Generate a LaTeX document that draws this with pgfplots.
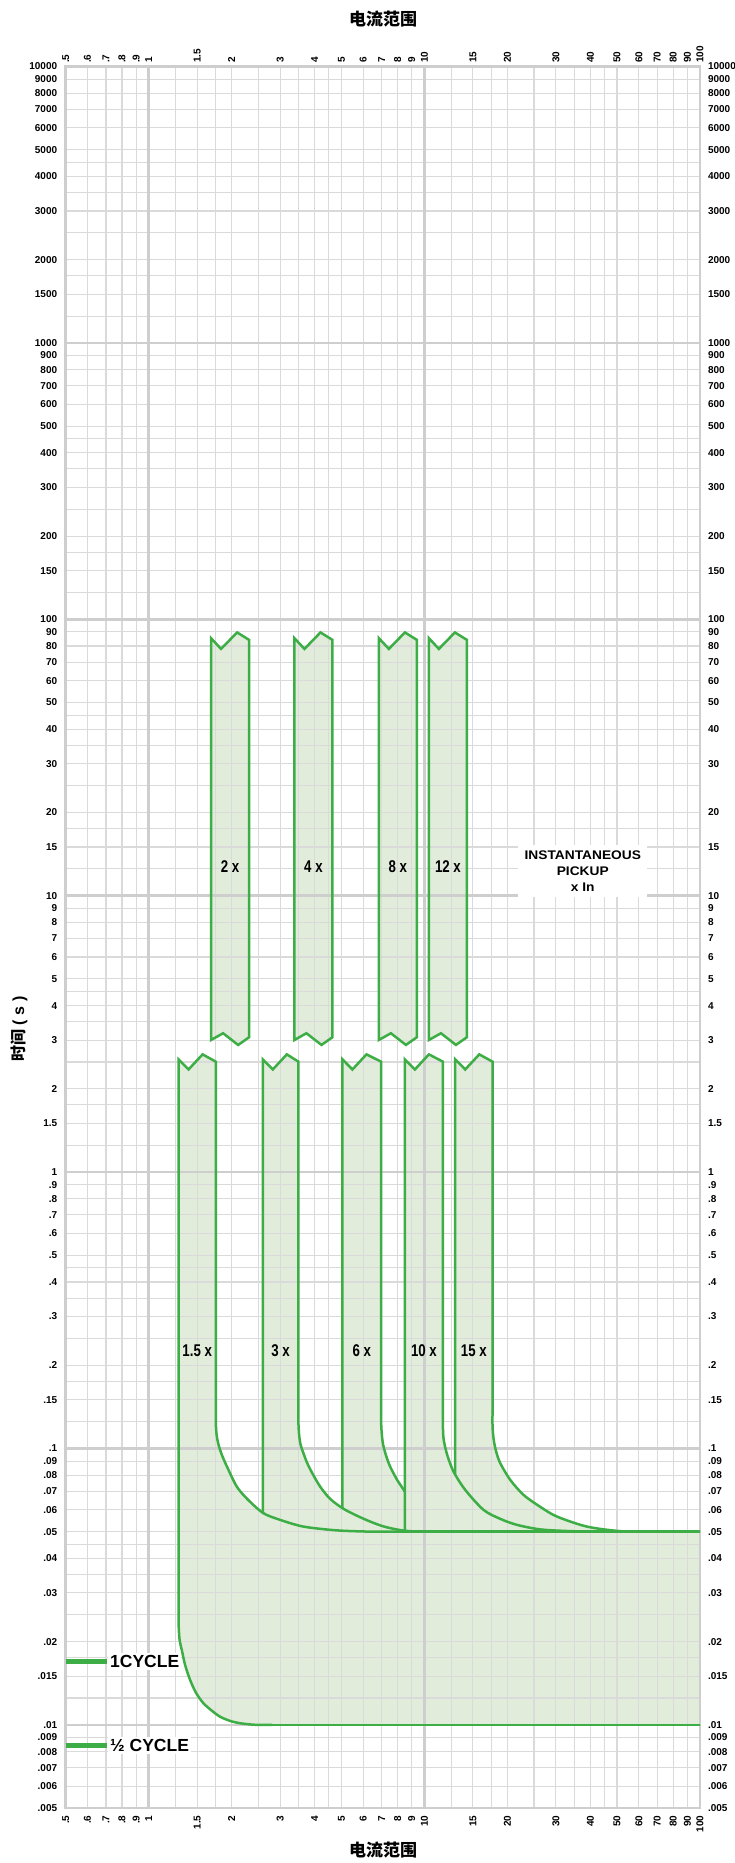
\documentclass[border=0pt]{standalone}
\usepackage{pgfplots}
\pgfplotsset{compat=1.18}
\usepackage{fontspec}
\setmainfont{Liberation Sans}
\newfontfamily\cjk{Noto Sans CJK SC}
\newfontfamily\condfont[FakeStretch=0.78]{Liberation Sans}
\newfontfamily\widefont[FakeStretch=1.1]{Liberation Sans}

\definecolor{tccgreen}{RGB}{61,174,70}
\definecolor{tccfill}{RGB}{225,237,218}
\definecolor{gridlight}{RGB}{218,218,218}
\definecolor{griddark}{RGB}{206,206,206}

\begin{document}
\begin{tikzpicture}

% fills, drawn first so the grid of the next axes lies over them
\begin{axis}[
    xmode=log, ymode=log,
    scale only axis,
    width=634.3pt, height=1741.5pt,
    at={(65.7pt,55pt)}, anchor=south west,
    xmin=0.5, xmax=100, ymin=0.005, ymax=10000,
    hide axis,
  ]
\addplot[fill=tccfill, draw=none] coordinates {
 (1.684,85.4) (1.830,78.1) (2.094,89.6) (2.314,84.2) (2.314,3.074) (2.111,2.883) (1.862,3.178) (1.684,3.005)} -- cycle;
\addplot[fill=tccfill, draw=none] coordinates {
 (3.379,85.4) (3.674,78.1) (4.200,89.6) (4.643,84.2) (4.643,3.074) (4.236,2.883) (3.735,3.178) (3.379,3.005)} -- cycle;
\addplot[fill=tccfill, draw=none] coordinates {
 (6.841,85.4) (7.436,78.1) (8.502,89.6) (9.397,84.2) (9.397,3.074) (8.573,2.883) (7.562,3.178) (6.841,3.005)} -- cycle;
\addplot[fill=tccfill, draw=none] coordinates {
 (10.39,85.4) (11.29,78.1) (12.91,89.6) (14.27,84.2) (14.27,3.074) (13.02,2.883) (11.49,3.178) (10.39,3.005)} -- cycle;
\addplot[fill=tccfill, draw=none] coordinates {
 (100,0.01) (2.4325,0.01) (2.146,0.01013) (1.9738,0.01033) (1.8155,0.0107) (1.6982,0.01123)
 (1.5795,0.01197) (1.4859,0.01304) (1.4132,0.01454) (1.3552,0.01648) (1.3186,0.01866)
 (1.2947,0.02029) (1.2839,0.02337) (1.2839,2.555) (1.3956,2.350) (1.5690,2.665) (1.7520,2.508)
 (1.7520,0.1237) (1.7638,0.1119) (1.7860,0.1047) (1.8155,0.09876) (1.8618,0.09239) (1.9252,0.08575)
 (2.0876,0.07276) (2.2945,0.06514) (2.6074,0.05831) (2.9993,0.05514) (3.6431,0.05214)
 (4.8152,0.05052) (6.3602,0.05) (100,0.05)} -- cycle;
\addplot[fill=tccfill, draw=none] coordinates {
 (2.5943,0.0583) (2.5943,2.555) (2.8203,2.350) (3.1707,2.665) (3.4935,2.508) (3.4935,0.1237)
 (3.5140,0.1119) (3.5584,0.10297) (3.6431,0.09608) (3.7566,0.08865) (3.9168,0.08156) (4.1880,0.07276)
 (4.5531,0.06569) (5.0464,0.06079) (5.6114,0.05749) (6.3602,0.05437) (7.2096,0.05201)
 (8.4033,0.05043) (9.6605,0.05) (2.5943,0.05)} -- cycle;
\addplot[fill=tccfill, draw=none] coordinates {
 (5.0464,0.06079) (5.0464,2.555) (5.4862,2.350) (6.1668,2.665) (6.9727,2.508) (6.9727,0.1237)
 (7.0137,0.1119) (7.0902,0.10297) (7.2700,0.09395) (7.5171,0.08596) (7.9701,0.07694)
 (8.5021,0.06979) (8.5021,0.05) (5.0464,0.05)} -- cycle;
\addplot[fill=tccfill, draw=none] coordinates {
 (8.5021,0.05) (8.5021,2.555) (9.2423,2.350) (10.389,2.665) (11.679,2.508) (11.679,0.11996)
 (11.757,0.10734) (12.106,0.09473) (12.761,0.08245) (14.072,0.07079) (16.401,0.05993)
 (18.856,0.05561) (21.679,0.05289) (26.339,0.05094) (33.830,0.0502) (43.482,0.05)} -- cycle;
\addplot[fill=tccfill, draw=none] coordinates {
 (12.944,0.0808) (12.944,2.555) (14.072,2.350) (15.823,2.665) (17.678,2.508) (17.678,0.11996)
 (17.857,0.10734) (18.234,0.09713) (18.856,0.08843) (20.498,0.07694) (22.908,0.0679)
 (26.339,0.06145) (30.284,0.05668) (38.913,0.05214) (51.393,0.0502) (66.052,0.05) (12.944,0.05)} -- cycle;
\end{axis}

% labels on the upper and right sides
\begin{axis}[
    xmode=log, ymode=log,
    scale only axis,
    width=634.3pt, height=1741.5pt,
    at={(65.7pt,55pt)}, anchor=south west,
    xmin=0.5, xmax=100, ymin=0.005, ymax=10000,
    xtick={0.5,0.6,0.7,0.8,0.9,1.5,2,3,4,5,6,7,8,9,15,20,30,40,50,60,70,80,90,100},
    xticklabels={.5,.6,.7,.8,.9,1.5,2,3,4,5,6,7,8,9,15,20,30,40,50,60,70,80,90,100},
    extra x ticks={1,10},
    extra x tick labels={1,10},
    ytick={0.005,0.006,0.007,0.008,0.009,0.015,0.02,0.03,0.04,0.05,0.06,0.07,0.08,0.09,
           0.15,0.2,0.3,0.4,0.5,0.6,0.7,0.8,0.9,1.5,2,3,4,5,6,7,8,9,
           15,20,30,40,50,60,70,80,90,150,200,300,400,500,600,700,800,900,
           1500,2000,3000,4000,5000,6000,7000,8000,9000,10000},
    yticklabels={.005,.006,.007,.008,.009,.015,.02,.03,.04,.05,.06,.07,.08,.09,
           .15,.2,.3,.4,.5,.6,.7,.8,.9,1.5,2,3,4,5,6,7,8,9,
           15,20,30,40,50,60,70,80,90,150,200,300,400,500,600,700,800,900,
           1500,2000,3000,4000,5000,6000,7000,8000,9000,10000},
    extra y ticks={0.01,0.1,1,10,100,1000},
    extra y tick labels={.01,.1,1,10,100,1000},
    major tick length=0pt, minor tick length=0pt,
    tick label style={font=\bfseries\fontsize{10}{10}\selectfont},
    axis line style={draw=none},
    xticklabel pos=right, yticklabel pos=right,
    xticklabel style={rotate=90, anchor=west},
    yticklabel style={anchor=west},
    yticklabel shift=4.5pt,
  ]
\end{axis}

\begin{axis}[
    xmode=log, ymode=log,
    scale only axis,
    width=634.3pt, height=1741.5pt,
    at={(65.7pt,55pt)}, anchor=south west,
    xmin=0.5, xmax=100, ymin=0.005, ymax=10000,
    xtick={0.5,0.6,0.7,0.8,0.9,1.5,2,3,4,5,6,7,8,9,15,20,30,40,50,60,70,80,90,100},
    xticklabels={.5,.6,.7,.8,.9,1.5,2,3,4,5,6,7,8,9,15,20,30,40,50,60,70,80,90,100},
    extra x ticks={1,10},
    extra x tick labels={1,10},
    ytick={0.005,0.006,0.007,0.008,0.009,0.015,0.02,0.03,0.04,0.05,0.06,0.07,0.08,0.09,
           0.15,0.2,0.3,0.4,0.5,0.6,0.7,0.8,0.9,1.5,2,3,4,5,6,7,8,9,
           15,20,30,40,50,60,70,80,90,150,200,300,400,500,600,700,800,900,
           1500,2000,3000,4000,5000,6000,7000,8000,9000,10000},
    yticklabels={.005,.006,.007,.008,.009,.015,.02,.03,.04,.05,.06,.07,.08,.09,
           .15,.2,.3,.4,.5,.6,.7,.8,.9,1.5,2,3,4,5,6,7,8,9,
           15,20,30,40,50,60,70,80,90,150,200,300,400,500,600,700,800,900,
           1500,2000,3000,4000,5000,6000,7000,8000,9000,10000},
    extra y ticks={0.01,0.1,1,10,100,1000},
    extra y tick labels={.01,.1,1,10,100,1000},
    major tick length=0pt, minor tick length=0pt,
    tick label style={font=\bfseries\fontsize{10}{10}\selectfont},
    axis line style={griddark, line width=2.6pt},
    grid=both,
    minor xtick={1.25,1.75,2.5,3.5,4.5,12.5,17.5,25,35,45},
    minor ytick={0.0125,0.0175,0.025,0.035,0.045,0.125,0.175,0.25,0.35,0.45,
                 1.25,1.75,2.5,3.5,4.5,12.5,17.5,25,35,45,125,175,250,350,450,
                 1250,1750,2500,3500,4500},
    major grid style={gridlight, line width=1.1pt},
    minor grid style={gridlight, line width=1.1pt},
    extra tick style={major grid style={griddark, line width=2.6pt}},
    xticklabel style={rotate=90, anchor=east},
    xticklabel shift=4pt,
    yticklabel style={anchor=east},
    yticklabel shift=5pt,
    every axis plot/.append style={line cap=round},
  ]

% ---- upper bands
\addplot[tccgreen, line width=2.5pt] coordinates {
 (1.684,85.4) (1.830,78.1) (2.094,89.6) (2.314,84.2) (2.314,3.074) (2.111,2.883) (1.862,3.178) (1.684,3.005)} -- cycle;
\addplot[tccgreen, line width=2.5pt] coordinates {
 (3.379,85.4) (3.674,78.1) (4.200,89.6) (4.643,84.2) (4.643,3.074) (4.236,2.883) (3.735,3.178) (3.379,3.005)} -- cycle;
\addplot[tccgreen, line width=2.5pt] coordinates {
 (6.841,85.4) (7.436,78.1) (8.502,89.6) (9.397,84.2) (9.397,3.074) (8.573,2.883) (7.562,3.178) (6.841,3.005)} -- cycle;
\addplot[tccgreen, line width=2.5pt] coordinates {
 (10.39,85.4) (11.29,78.1) (12.91,89.6) (14.27,84.2) (14.27,3.074) (13.02,2.883) (11.49,3.178) (10.39,3.005)} -- cycle;

% ---- 1.5 x
\addplot[tccgreen, line width=2.5pt] coordinates {(2.8,0.01) (100,0.01)};
\addplot[tccgreen, line width=2.5pt, smooth, tension=0.5] coordinates {
 (1.2839,0.03) (1.2839,0.02337) (1.2947,0.02029) (1.3186,0.01866) (1.3552,0.01648) (1.4132,0.01454)
 (1.4859,0.01304) (1.5795,0.01197) (1.6982,0.01123) (1.8155,0.0107) (1.9738,0.01033)
 (2.146,0.01013) (2.4325,0.01) (2.8,0.01)};
\addplot[tccgreen, line width=2.5pt] coordinates {
 (1.2839,0.03) (1.2839,2.555) (1.3956,2.350) (1.5690,2.665) (1.7520,2.508) (1.7520,0.14)};
\addplot[tccgreen, line width=2.5pt, smooth, tension=0.5] coordinates {
 (1.7520,0.14) (1.7520,0.1237) (1.7638,0.1119) (1.7860,0.1047) (1.8155,0.09876) (1.8618,0.09239)
 (1.9252,0.08575) (2.0876,0.07276) (2.2945,0.06514) (2.6074,0.05831) (2.9993,0.05514)
 (3.6431,0.05214) (4.8152,0.05052) (6.3602,0.05) (8,0.05)};
\addplot[tccgreen, line width=2.5pt] coordinates {(8,0.05) (100,0.05)};

% ---- 3 x
\addplot[tccgreen, line width=2.5pt] coordinates {
 (2.5943,0.0583) (2.5943,2.555) (2.8203,2.350) (3.1707,2.665) (3.4935,2.508) (3.4935,0.14)};
\addplot[tccgreen, line width=2.5pt, smooth, tension=0.5] coordinates {
 (3.4935,0.14) (3.4935,0.1237) (3.5140,0.1119) (3.5584,0.10297) (3.6431,0.09608) (3.7566,0.08865)
 (3.9168,0.08156) (4.1880,0.07276) (4.5531,0.06569) (5.0464,0.06079) (5.6114,0.05749)
 (6.3602,0.05437) (7.2096,0.05201) (8.4033,0.05043) (9.6605,0.05) (11,0.05)};

% ---- 6 x
\addplot[tccgreen, line width=2.5pt] coordinates {
 (5.0464,0.06079) (5.0464,2.555) (5.4862,2.350) (6.1668,2.665) (6.9727,2.508) (6.9727,0.14)};
\addplot[tccgreen, line width=2.5pt, smooth, tension=0.5] coordinates {
 (6.9727,0.14) (6.9727,0.1237) (7.0137,0.1119) (7.0902,0.10297) (7.2700,0.09395) (7.5171,0.08596)
 (7.9701,0.07694) (8.5021,0.06979)};

% ---- 10 x
\addplot[tccgreen, line width=2.5pt] coordinates {
 (8.5021,0.05) (8.5021,2.555) (9.2423,2.350) (10.389,2.665) (11.679,2.508) (11.679,0.135)};
\addplot[tccgreen, line width=2.5pt, smooth, tension=0.5] coordinates {
 (11.679,0.135) (11.679,0.11996) (11.757,0.10734) (12.106,0.09473) (12.761,0.08245) (14.072,0.07079)
 (16.401,0.05993) (18.856,0.05561) (21.679,0.05289) (26.339,0.05094) (33.830,0.0502)
 (43.482,0.05) (50,0.05)};

% ---- 15 x
\addplot[tccgreen, line width=2.5pt] coordinates {
 (12.944,0.0808) (12.944,2.555) (14.072,2.350) (15.823,2.665) (17.678,2.508) (17.678,0.135)};
\addplot[tccgreen, line width=2.5pt, smooth, tension=0.5] coordinates {
 (17.678,0.135) (17.678,0.11996) (17.857,0.10734) (18.234,0.09713) (18.856,0.08843) (20.498,0.07694)
 (22.908,0.0679) (26.339,0.06145) (30.284,0.05668) (38.913,0.05214) (51.393,0.0502)
 (66.052,0.05) (75,0.05)};

% ---- cycle markers
\addplot[tccgreen, line width=4.6pt, line cap=butt] coordinates {(0.5,0.01694) (0.708,0.01694)};
\addplot[tccgreen, line width=4.6pt, line cap=butt] coordinates {(0.5,0.00841) (0.708,0.00841)};

% ---- labels
\node[font=\condfont\bfseries\fontsize{17}{17}\selectfont] at (axis cs:1.974,12.7) {2 x};
\node[font=\condfont\bfseries\fontsize{17}{17}\selectfont] at (axis cs:3.961,12.7) {4 x};
\node[font=\condfont\bfseries\fontsize{17}{17}\selectfont] at (axis cs:8.018,12.7) {8 x};
\node[font=\condfont\bfseries\fontsize{17}{17}\selectfont] at (axis cs:12.18,12.7) {12 x};
\node[font=\condfont\bfseries\fontsize{17}{17}\selectfont] at (axis cs:1.4998,0.2253) {1.5 x};
\node[font=\condfont\bfseries\fontsize{17}{17}\selectfont] at (axis cs:3.0105,0.2253) {3 x};
\node[font=\condfont\bfseries\fontsize{17}{17}\selectfont] at (axis cs:5.932,0.2253) {6 x};
\node[font=\condfont\bfseries\fontsize{17}{17}\selectfont] at (axis cs:9.965,0.2253) {10 x};
\node[font=\condfont\bfseries\fontsize{17}{17}\selectfont] at (axis cs:15.127,0.2253) {15 x};
\node[fill=white, align=center, minimum width=129pt, minimum height=52pt, inner sep=0pt,
      font=\widefont\bfseries\fontsize{12.5}{16}\selectfont]
  at (axis cs:37.57,12.29) {INSTANTANEOUS\\PICKUP\\x In};
\node[anchor=west, fill=white, inner sep=2pt, font=\bfseries\fontsize{17.5}{17.5}\selectfont]
  at (axis cs:0.712,0.01694) {1CYCLE};
\node[anchor=west, fill=white, inner sep=2pt, font=\bfseries\fontsize{17.5}{17.5}\selectfont]
  at (axis cs:0.712,0.00841) {½ CYCLE};
\end{axis}

\node[font=\cjk\bfseries\fontsize{17}{17}\selectfont] at (383pt,1844pt) {电流范围};
\node[font=\cjk\bfseries\fontsize{17}{17}\selectfont] at (383pt,12.5pt) {电流范围};
\node[rotate=90, font=\bfseries\fontsize{16}{16}\selectfont] at (19pt,834pt)
  {{\cjk 时间}\hspace{4pt}(\hspace{5pt}s\hspace{5pt})};

\pgfresetboundingbox
\useasboundingbox (0,0) rectangle (734pt,1863pt);
\end{tikzpicture}
\end{document}
